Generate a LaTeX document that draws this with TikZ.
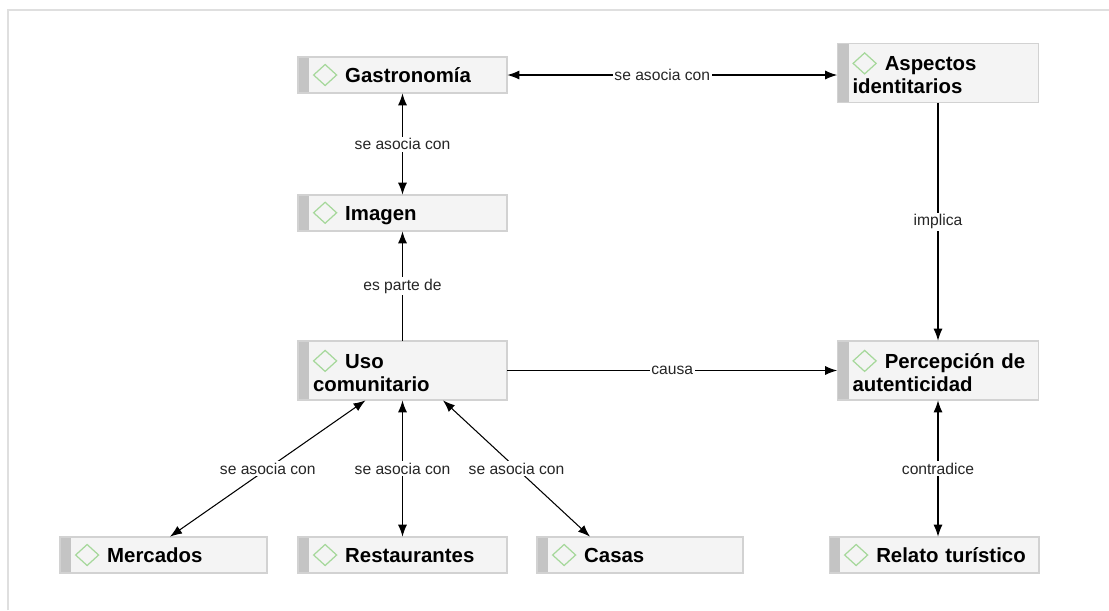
\documentclass[tikz,border=0pt]{standalone}
\usepackage{fontspec}
\setmainfont{Liberation Sans}
\usetikzlibrary{arrows.meta}
\definecolor{verde}{HTML}{A6D89B}
\definecolor{barra}{HTML}{C4C4C4}
\definecolor{borde}{HTML}{D2D2D2}
\definecolor{fondo}{HTML}{F4F4F4}
\newcommand{\rombo}{\hspace*{0.1cm}\tikz[baseline=0pt,x=1cm,y=1cm]\draw[verde,line width=0.7pt]
  (0,0.146) -- (0.23,0.356) -- (0.46,0.146) -- (0.23,-0.064) -- cycle;\hspace{0.16cm}}
\newcommand{\salto}{\\\hspace*{0.1cm}}
\tikzset{
  concepto/.style={draw=borde, fill=fondo, text width=#1, inner xsep=0.2cm,
    minimum height=0.72cm, align=left,
    font=\bfseries\fontsize{11.6}{13}\selectfont,
    path picture={\fill[barra] (path picture bounding box.south west)
      rectangle ([xshift=0.22cm]path picture bounding box.north west);}},
  concepto/.default=3.78cm,
  etiqueta/.style={fill=white, inner sep=1pt, text=black!85,
    font=\fontsize{8.9}{10}\selectfont}
}
\begin{document}
\begin{tikzpicture}[x=0.02cm, y=-0.02cm, line width=0.6pt,
    >={Latex[length=0.24cm,width=0.18cm]}]
      \useasboundingbox (0,0) rectangle (1109,610);
      \draw[gray!25] (8,610) -- (8,10) -- (1109,10);
      \node[concepto] (gastronomia) at (402.5,75) {\rombo Gastronomía};
      \node[concepto=3.62cm, minimum height=1.18cm] (aspectos) at (938,73) {\rombo Aspectos\salto identitarios};
      \node[concepto] (imagen) at (402.5,213) {\rombo Imagen};
      \node[concepto, minimum height=1.18cm] (uso) at (402.5,370.5) {\rombo Uso\salto comunitario};
      \node[concepto=3.62cm, minimum height=1.18cm] (percepcion) at (938,370.5) {\rombo Percepción de\salto autenticidad};
      \node[concepto=3.74cm] (mercados) at (163.5,555) {\rombo Mercados};
      \node[concepto] (restaurantes) at (402.5,555) {\rombo Restaurantes};
      \node[concepto=3.72cm] (casas) at (640,555) {\rombo Casas};
      \node[concepto=3.8cm] (relato) at (934,555) {\mbox{\rombo Relato turístico}};
      \begin{scope}[every node/.style={etiqueta}]
        \draw[<->] (gastronomia.east) to node[xshift=-0.2cm] {se asocia con} (gastronomia.east -| aspectos.west);
        \draw[<->] (gastronomia) to node {se asocia con} (imagen);
        \draw[->] (uso) to node {es parte de} (imagen);
        \draw[->] (aspectos) to node {implica} (percepcion);
        \draw[->] (uso) to node {causa} (percepcion);
        \draw[<->] (percepcion.south) to node {contradice} (percepcion.south |- relato.north);
        \draw[<->] ([xshift=-0.74cm]uso.south) to node {se asocia con} ([xshift=0.13cm]mercados.north);
        \draw[<->] (uso) to node {se asocia con} (restaurantes);
        \draw[<->] ([xshift=0.81cm]uso.south) to node {se asocia con} ([xshift=-1cm]casas.north);
      \end{scope}
    \end{tikzpicture}
\end{document}
